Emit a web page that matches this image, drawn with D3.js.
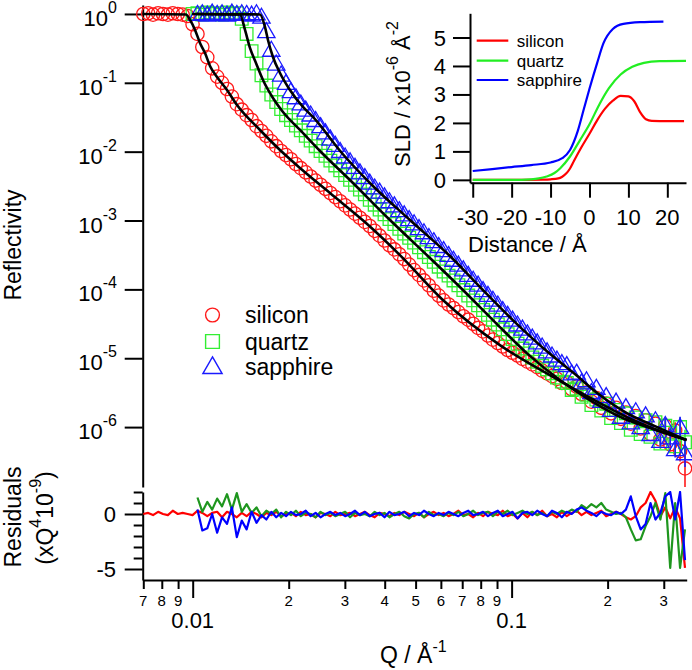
<!DOCTYPE html>
<html><head><meta charset="utf-8">
<script src="https://cdn.jsdelivr.net/npm/d3@7"></script>
<style>
body{margin:0;background:#fff}
svg{display:block}
text{font-family:"Liberation Sans",Arial,sans-serif;fill:#000}
</style>
</head><body>
<svg id="c" width="692" height="670"></svg>
<script>
// ---------- DATA ----------
const qGrid = [0.00700,0.00725,0.00751,0.00779,0.00807,0.00836,0.00866,0.00898,0.00930,0.00964,
0.00999,0.01035,0.01072,0.01111,0.01151,0.01193,0.01236,0.01281,0.01327,0.01375,
0.01425,0.01476,0.01530,0.01585,0.01643,0.01702,0.01764,0.01828,0.01894,0.01962,
0.02033,0.02107,0.02183,0.02262,0.02344,0.02429,0.02517,0.02608,0.02702,0.02800,
0.02901,0.03006,0.03115,0.03228,0.03345,0.03466,0.03591,0.03721,0.03856,0.03995,
0.04140,0.04290,0.04445,0.04606,0.04773,0.04945,0.05124,0.05310,0.05502,0.05701,
0.05907,0.06121,0.06343,0.06572,0.06810,0.07057,0.07312,0.07577,0.07851,0.08136,
0.08430,0.08736,0.09052,0.09380,0.09719,0.10071,0.10436,0.10814,0.11205,0.11611,
0.12031,0.12467,0.12918,0.13386,0.13871,0.14373,0.14893,0.15433,0.15991,0.16570,
0.17170,0.17792,0.18436,0.19104,0.19795,0.20512,0.21255,0.22024,0.22821,0.23648,
0.24504,0.25391,0.26310,0.27262,0.28249,0.29272,0.30332,0.31430,0.32567,0.33746,0.34968];

// log10 reflectivity, silicon from qGrid[0], quartz from qGrid[10], sapphire from qGrid[11]
const siliconLogR = [0.00,0.01,-0.01,0.01,0.00,-0.01,0.01,0.00,-0.01,-0.03,
-0.15,-0.29,-0.48,-0.63,-0.79,-0.91,-1.00,-1.09,-1.20,-1.31,
-1.39,-1.47,-1.54,-1.63,-1.70,-1.77,-1.85,-1.92,-1.99,-2.05,
-2.11,-2.18,-2.24,-2.30,-2.36,-2.42,-2.48,-2.54,-2.60,-2.66,
-2.72,-2.78,-2.84,-2.90,-2.96,-3.02,-3.08,-3.15,-3.22,-3.29,
-3.36,-3.42,-3.49,-3.56,-3.64,-3.72,-3.79,-3.87,-3.94,-4.02,
-4.09,-4.16,-4.22,-4.27,-4.33,-4.39,-4.44,-4.50,-4.56,-4.61,
-4.67,-4.73,-4.78,-4.83,-4.88,-4.92,-4.96,-5.01,-5.05,-5.09,
-5.13,-5.18,-5.22,-5.26,-5.30,-5.36,-5.35,-5.45,-5.41,-5.52,
-5.50,-5.63,-5.58,-5.72,-5.66,-5.80,-5.72,-5.88,-5.79,-5.95,
-5.84,-6.02,-5.90,-6.10,-5.95,-6.18,-5.98,-6.25,-6.05,-6.35,-6.60];
const quartzLogR = [0.00,0.01,-0.01,0.02,0.00,0.01,-0.01,0.02,0.00,0.01,
-0.07,-0.29,-0.54,-0.72,-0.89,-1.04,-1.17,-1.28,-1.38,-1.47,
-1.54,-1.62,-1.69,-1.77,-1.84,-1.92,-1.99,-2.06,-2.13,-2.20,
-2.27,-2.34,-2.41,-2.48,-2.55,-2.62,-2.70,-2.77,-2.84,-2.91,
-2.98,-3.05,-3.12,-3.19,-3.25,-3.32,-3.39,-3.46,-3.53,-3.60,
-3.67,-3.74,-3.80,-3.87,-3.94,-4.01,-4.09,-4.16,-4.23,-4.30,
-4.37,-4.44,-4.51,-4.58,-4.65,-4.72,-4.79,-4.86,-4.93,-4.99,
-5.05,-5.11,-5.16,-5.22,-5.28,-5.34,-5.36,-5.46,-5.44,-5.56,
-5.53,-5.68,-5.60,-5.76,-5.66,-5.87,-5.75,-5.94,-5.80,-6.04,
-5.86,-6.10,-5.90,-6.14,-5.93,-6.24,-5.98,-6.08,-6.28,-6.00,-6.22];
const sapphireLogR = [0.00,0.01,-0.01,0.02,0.00,0.01,-0.01,0.02,0.00,0.01,0.00,-0.01,0.01,
-0.04,-0.25,-0.52,-0.72,-0.88,-1.00,-1.12,-1.21,-1.30,-1.39,-1.46,-1.54,-1.63,-1.72,-1.81,-1.90,
-1.99,-2.07,-2.14,-2.22,-2.30,-2.37,-2.45,-2.52,-2.58,-2.65,-2.72,-2.78,-2.85,-2.91,-2.98,-3.04,-3.11,-3.17,-3.24,-3.30,
-3.37,-3.43,-3.50,-3.57,-3.64,-3.71,-3.79,-3.86,-3.93,-4.01,-4.08,-4.15,-4.22,-4.30,-4.37,-4.44,-4.51,-4.57,-4.64,-4.70,
-4.77,-4.83,-4.90,-4.96,-5.02,-5.07,-5.10,-5.22,-5.21,-5.35,-5.32,-5.49,-5.43,-5.62,-5.55,-5.75,-5.63,-5.85,-5.71,-5.93,
-5.77,-6.00,-5.83,-6.10,-5.90,-6.20,-5.97,-6.15,-6.32,-6.00,-6.38];

// error bars (log10 half-width) on the last six points of each series
const siliconErr = [0.08,0.10,0.10,0.12,0.15,0.30];
const quartzErr = [0.08,0.10,0.10,0.12,0.14,0.18];
const sapphireErr = [0.08,0.10,0.12,0.12,0.15,0.20];

// fitted curves (Q, log10 R)
const siliconFitQ = [0.00697,0.00953,0.00981,0.01017,0.01054,0.01093,0.01133,0.01192,0.01281,0.01377,0.01626,0.01878,0.02170,0.02694,0.03467,0.04465,0.06089,0.0919,0.1318,0.1891,0.2298,0.2714,0.3536];
const siliconFitLogR = [0,-0.007,-0.087,-0.232,-0.421,-0.567,-0.755,-0.915,-1.104,-1.322,-1.685,-1.976,-2.237,-2.601,-3.022,-3.502,-4.155,-4.809,-5.245,-5.651,-5.855,-6.000,-6.189];
const quartzFitQ = [0.00995,0.01407,0.01459,0.01512,0.01579,0.01661,0.01785,0.01919,0.02170,0.02525,0.03112,0.04155,0.05546,0.06986,0.08864,0.1125,0.1417,0.1759,0.2185,0.2714,0.3536];
const quartzFitLogR = [0,-0.007,-0.232,-0.494,-0.712,-0.959,-1.220,-1.424,-1.685,-2.005,-2.412,-2.993,-3.545,-3.995,-4.475,-4.940,-5.317,-5.608,-5.849,-6.014,-6.189];
const sapphireFitQ = [0.01024,0.01626,0.01685,0.01722,0.01785,0.01878,0.02018,0.02217,0.02383,0.02917,0.03595,0.04799,0.06405,0.08069,0.1024,0.1299,0.1579,0.1891,0.2298,0.2815,0.3536];
const sapphireFitLogR = [0,-0.007,-0.189,-0.378,-0.625,-0.857,-1.104,-1.351,-1.496,-2.005,-2.455,-2.993,-3.516,-3.995,-4.475,-4.911,-5.230,-5.535,-5.797,-5.986,-6.189];

// residuals (x Q^4 10^-9), silicon from qGrid[0], quartz & sapphire from qGrid[11]
const siliconResid = [0.0,0.1,-0.1,0.2,0.0,-0.1,0.3,0.0,0.1,0.0,-0.1,0.3,0.1,-0.2,0.1,0.2,-0.3,0.2,0.0,-0.3,
0.1,-0.2,0.2,0.0,-0.3,0.1,-0.1,0.2,-0.2,0.0,0.1,-0.2,0.2,-0.1,0.0,-0.3,0.1,0.0,-0.2,0.2,
-0.1,0.0,0.1,-0.2,0.0,0.2,-0.1,-0.3,0.1,0.0,-0.2,0.1,-0.1,0.2,0.0,-0.2,0.1,-0.3,0.0,0.2,
-0.1,0.1,-0.2,0.0,0.3,-0.1,0.0,-0.3,0.1,-0.2,0.2,0.0,-0.1,0.3,-0.2,0.0,-0.4,0.1,-0.3,0.2,
-0.1,0.3,-0.2,0.0,-0.3,0.2,-0.2,0.1,0.3,-0.1,0.2,-0.1,0.1,0.3,-0.2,0.0,0.2,0.0,-0.3,-0.5,
-0.2,0.6,1.0,2.0,1.2,-0.2,0.6,-0.4,0.6,-0.4,-4.9];
const quartzResid = [1.5,0.2,1.1,0.4,1.4,0.7,1.8,0.4,1.9,0.2,
0.9,0.1,0.6,-0.2,0.3,0.0,0.4,-0.3,0.2,-0.1,
0.3,-0.2,0.1,0.0,-0.3,0.2,-0.1,0.1,-0.2,0.0,
0.2,-0.3,0.1,-0.1,0.0,-0.2,0.2,-0.1,0.1,-0.3,
0.0,0.2,-0.2,-0.4,0.0,0.1,-0.3,0.2,-0.1,0.0,
-0.2,0.1,-0.1,0.2,-0.2,0.0,0.3,-0.1,0.1,0.2,
-0.2,0.2,0.0,0.3,-0.1,0.1,0.3,0.0,0.2,-0.1,
0.1,-0.2,0.2,0.0,0.3,0.1,0.4,0.2,0.8,0.5,
0.9,0.6,1.0,0.4,0.2,0.0,0.1,-0.3,-1.4,-2.4,
-2.3,-1.1,-0.2,1.0,-0.5,1.9,-4.9,1.0,-4.9,-1.4];
const sapphireResid = [0.4,-1.5,-1.3,0.0,-1.7,-0.3,-0.9,0.6,-2.1,-0.6,
-1.4,0.2,-0.8,-0.1,-0.5,0.2,-0.3,0.1,-0.2,0.2,
-0.1,0.0,0.3,-0.2,0.1,-0.3,0.0,0.2,-0.1,0.1,
-0.2,0.0,0.3,-0.1,0.2,-0.2,0.0,0.1,-0.3,0.2,
-0.1,0.0,0.2,-0.2,0.1,-0.1,0.3,0.0,-0.2,0.1,
-0.1,0.2,0.0,-0.2,0.1,0.3,-0.1,0.0,0.2,-0.2,
0.1,0.3,-0.2,0.0,0.2,-0.4,0.1,0.2,-0.1,0.3,
0.0,-0.2,0.3,0.1,-0.3,0.2,0.0,0.4,0.6,0.3,
0.1,-0.2,0.2,0.0,-0.1,0.2,0.0,0.4,1.6,-0.2,
-1.4,-0.9,1.0,-0.5,0.1,1.6,2.0,-0.5,2.0,-4.2];

// SLD profiles (distance / Å, SLD / 1e-6 Å^-2)
const siliconZ = [-30,-20,-12,-10,-8,-7,-6,-5,-4,-2,0,2,4,6,8,10,11.5,13,14.5,16,20,24.3];
const siliconSLD = [0,0,0.01,0.02,0.05,0.11,0.22,0.40,0.66,1.16,1.62,2.10,2.50,2.78,2.95,2.93,2.76,2.38,2.13,2.07,2.06,2.06];
const quartzZ = [-30,-20,-15,-13,-11,-9,-7.5,-5,-2.5,0,2.5,5,8,11,14,18,24.8];
const quartzSLD = [0,0,0.02,0.05,0.12,0.24,0.41,0.82,1.38,1.95,2.64,3.22,3.70,3.97,4.11,4.17,4.18];
const sapphireZ = [-30,-20,-15,-10,-7,-5,-3,-1.5,0,2,3.6,6,8.7,13,19];
const sapphireSLD = [0.31,0.45,0.52,0.61,0.76,1.05,1.72,2.46,3.20,4.12,4.80,5.30,5.48,5.54,5.56];

const seriesNames = ["silicon","quartz","sapphire"];
const markerColors = ["#ff1a1a","#33ee33","#1a1aff"];
const sldColors = ["#ff0000","#22ee22","#0000ff"];
const residColors = ["#ff0000","#1e961e","#0000ff"];

const majorQTicks = [0.01,0.1];
const minorQTicks = [0.007,0.008,0.009,0.02,0.03,0.04,0.05,0.06,0.07,0.08,0.09,0.2,0.3];
const reflTickExps = [0,-1,-2,-3,-4,-5,-6];
const residMajor = [0,-5];
const residMinor = [2,1,-1,-2,-3,-4];
const insetXTicks = [-30,-20,-10,0,10,20];
const insetYTicks = [0,1,2,3,4,5];

// ---------- DRAW ----------
const svg = d3.select("#c");
const x = d3.scaleLog().domain([0.00697,0.354]).range([142.7,686.7]);
const yMain = d3.scaleLog().domain([Math.pow(10,0.13),Math.pow(10,-6.87)]).range([5,487]);
const yRes = d3.scaleLinear().domain([-6,2]).range([580,492]);

svg.append("defs").append("clipPath").attr("id","mainclip")
  .append("rect").attr("x",130).attr("y",0).attr("width",562).attr("height",487);
svg.select("defs").append("clipPath").attr("id","resclip")
  .append("rect").attr("x",142).attr("y",491).attr("width",550).attr("height",90);

function styleAxis(g){
  g.selectAll("path.domain").attr("stroke","#000").attr("stroke-width",2);
  g.selectAll(".tick line").attr("stroke","#000").attr("stroke-width",2);
  g.selectAll(".tick text").remove();
}

// main y axis
const gy = svg.append("g").attr("transform","translate(142.7,0)")
  .call(d3.axisLeft(yMain).tickValues(reflTickExps.map(k=>Math.pow(10,k))).tickSize(18).tickSizeOuter(0).tickFormat(""));
styleAxis(gy);
reflTickExps.forEach(k=>{
  const t = svg.append("text").attr("x",117).attr("y",yMain(Math.pow(10,k))+12)
    .attr("text-anchor","end").style("font-size","22px");
  t.append("tspan").text("10");
  t.append("tspan").attr("dy",-13).style("font-size","16px").text(k===0?"0":"-"+(-k));
});

// residual y axis
const gr = svg.append("g").attr("transform","translate(142.7,0)")
  .call(d3.axisLeft(yRes).tickValues(residMajor).tickSize(18).tickSizeOuter(0).tickFormat(""));
styleAxis(gr);
const gr2 = svg.append("g").attr("transform","translate(142.7,0)")
  .call(d3.axisLeft(yRes).tickValues(residMinor).tickSize(9).tickSizeOuter(0).tickFormat(""));
styleAxis(gr2); gr2.select("path.domain").remove();
residMajor.forEach(v=>{
  svg.append("text").attr("x",116).attr("y",yRes(v)+8).attr("text-anchor","end")
    .style("font-size","22px").text(v===0?"0":"-5");
});

// x axis
const gx = svg.append("g").attr("transform","translate(0,580)")
  .call(d3.axisBottom(x).tickValues(majorQTicks).tickSize(18).tickSizeOuter(0).tickFormat(""));
styleAxis(gx);
const gx2 = svg.append("g").attr("transform","translate(0,580)")
  .call(d3.axisBottom(x).tickValues(minorQTicks).tickSize(9).tickSizeOuter(0).tickFormat(""));
styleAxis(gx2); gx2.select("path.domain").remove();
minorQTicks.forEach(q=>{
  const m = Math.round(q/Math.pow(10,Math.floor(Math.log10(q)+1e-9)));
  svg.append("text").attr("x",x(q)).attr("y",606).attr("text-anchor","middle")
    .style("font-size","15px").text(m);
});
majorQTicks.forEach(q=>{
  svg.append("text").attr("x",x(q)).attr("y",628).attr("text-anchor","middle")
    .style("font-size","22px").text(q===0.01?"0.01":"0.1");
});
{
  const t = svg.append("text").attr("x",380).attr("y",663).style("font-size","23px");
  t.append("tspan").text("Q / Å");
  t.append("tspan").attr("dy",-11).style("font-size","16px").text("-1");
}

// axis titles
svg.append("text").attr("transform","translate(21,245) rotate(-90)").attr("text-anchor","middle")
  .style("font-size","23px").text("Reflectivity");
svg.append("text").attr("transform","translate(21,517) rotate(-90)").attr("text-anchor","middle")
  .style("font-size","23px").text("Residuals");
{
  const t = svg.append("text").attr("transform","translate(53,518) rotate(-90)").attr("text-anchor","middle")
    .style("font-size","23px");
  t.append("tspan").text("(xQ");
  t.append("tspan").attr("dy",-12).style("font-size","16px").text("4");
  t.append("tspan").attr("dy",12).text("10");
  t.append("tspan").attr("dy",-12).style("font-size","16px").text("-9");
  t.append("tspan").attr("dy",12).text(")");
}

// data markers
const dataSets = [
  {logR: siliconLogR, start:0, err: siliconErr},
  {logR: quartzLogR, start:10, err: quartzErr},
  {logR: sapphireLogR, start:11, err: sapphireErr}
];
const gData = svg.append("g").attr("clip-path","url(#mainclip)");
const symTypes = [d3.symbolCircle, d3.symbolSquare, d3.symbolTriangle];
dataSets.forEach((ds,si)=>{
  const pts = ds.logR.map((v,i)=>({q:qGrid[i+ds.start], lr:v}));
  const errPts = pts.slice(pts.length-ds.err.length).map((p,k)=>({q:p.q, lr:p.lr, e:ds.err[k]}));
  const g = gData.append("g");
  g.selectAll("line").data(errPts).join("line")
    .attr("x1",d=>x(d.q)).attr("x2",d=>x(d.q))
    .attr("y1",d=>yMain(Math.pow(10,d.lr+d.e))).attr("y2",d=>yMain(Math.pow(10,d.lr-d.e)))
    .attr("stroke",markerColors[si]).attr("stroke-width",1.6);
  const sym = d3.symbol().type(symTypes[si]).size(si===0?140:si===1?160:130);
  g.selectAll("path").data(pts).join("path")
    .attr("transform",d=>`translate(${x(d.q)},${yMain(Math.pow(10,d.lr))+(si===2?1.5:0)})`)
    .attr("d",sym).attr("fill","none").attr("stroke",markerColors[si]).attr("stroke-width",1.3);
});
// fits
const fits = [[siliconFitQ,siliconFitLogR],[quartzFitQ,quartzFitLogR],[sapphireFitQ,sapphireFitLogR]];
const fitLine = d3.line().x(d=>x(d[0])).y(d=>yMain(Math.pow(10,d[1]))).curve(d3.curveMonotoneX);
fits.forEach(f=>{
  gData.append("path").datum(f[0].map((q,i)=>[q,f[1][i]])).attr("d",fitLine)
    .attr("fill","none").attr("stroke","#000").attr("stroke-width",2.6);
});

// legend (main)
const legY = [315,341.5,366.5];
seriesNames.forEach((n,i)=>{
  const sym = d3.symbol().type(symTypes[i]).size(i===0?150:i===1?190:160);
  svg.append("path").attr("transform",`translate(212.5,${legY[i]+(i===2?1.5:0)})`).attr("d",sym)
    .attr("fill","none").attr("stroke",markerColors[i]).attr("stroke-width",1.4);
  svg.append("text").attr("x",245).attr("y",legY[i]+8).style("font-size","23px").text(n);
});

// residual lines
const gRes = svg.append("g").attr("clip-path","url(#resclip)");
const resLine = d3.line().x(d=>x(d[0])).y(d=>yRes(d[1]));
[[siliconResid,0],[quartzResid,11],[sapphireResid,11]].forEach((r,si)=>{
  gRes.append("path").datum(r[0].map((v,i)=>[qGrid[i+r[1]],v])).attr("d",resLine)
    .attr("fill","none").attr("stroke",residColors[si]).attr("stroke-width",2.2).attr("stroke-linejoin","round");
});

// ---------- INSET ----------
const xIn = d3.scaleLinear().domain([-30.7,24.8]).range([470,686]);
const yIn = d3.scaleLinear().domain([-0.1,5.85]).range([182.7,13.3]);
const gix = svg.append("g").attr("transform","translate(0,182.7)")
  .call(d3.axisBottom(xIn).tickValues(insetXTicks).tickSize(15).tickSizeOuter(0).tickFormat(""));
styleAxis(gix);
const giy = svg.append("g").attr("transform","translate(470,0)")
  .call(d3.axisLeft(yIn).tickValues(insetYTicks).tickSize(17).tickSizeOuter(0).tickFormat(""));
styleAxis(giy);
insetXTicks.forEach(v=>{
  svg.append("text").attr("x",xIn(v)).attr("y",225).attr("text-anchor","middle")
    .style("font-size","22px").text(v<0?"-"+(-v):v);
});
insetYTicks.forEach(v=>{
  svg.append("text").attr("x",446).attr("y",yIn(v)+8).attr("text-anchor","end")
    .style("font-size","22px").text(v);
});
svg.append("text").attr("x",468).attr("y",252).style("font-size","22px").text("Distance / Å");
{
  const t = svg.append("text").attr("transform","translate(410,94) rotate(-90)").attr("text-anchor","middle")
    .style("font-size","22px");
  t.append("tspan").text("SLD / x10");
  t.append("tspan").attr("dy",-12).style("font-size","16px").text("-6");
  t.append("tspan").attr("dy",12).text(" Å");
  t.append("tspan").attr("dy",-12).style("font-size","16px").text("-2");
}
const sldLine = d3.line().x(d=>xIn(d[0])).y(d=>yIn(d[1])).curve(d3.curveMonotoneX);
[[siliconZ,siliconSLD],[quartzZ,quartzSLD],[sapphireZ,sapphireSLD]].forEach((s,i)=>{
  svg.append("path").datum(s[0].map((z,k)=>[z,s[1][k]])).attr("d",sldLine)
    .attr("fill","none").attr("stroke",sldColors[i]).attr("stroke-width",2.2);
});
const insLegY = [40.7,60.7,80];
seriesNames.forEach((n,i)=>{
  svg.append("line").attr("x1",476.7).attr("x2",508.3).attr("y1",insLegY[i]).attr("y2",insLegY[i])
    .attr("stroke",sldColors[i]).attr("stroke-width",2.2);
  svg.append("text").attr("x",516.7).attr("y",insLegY[i]+6).style("font-size","17px").text(n);
});
</script>
</body></html>
